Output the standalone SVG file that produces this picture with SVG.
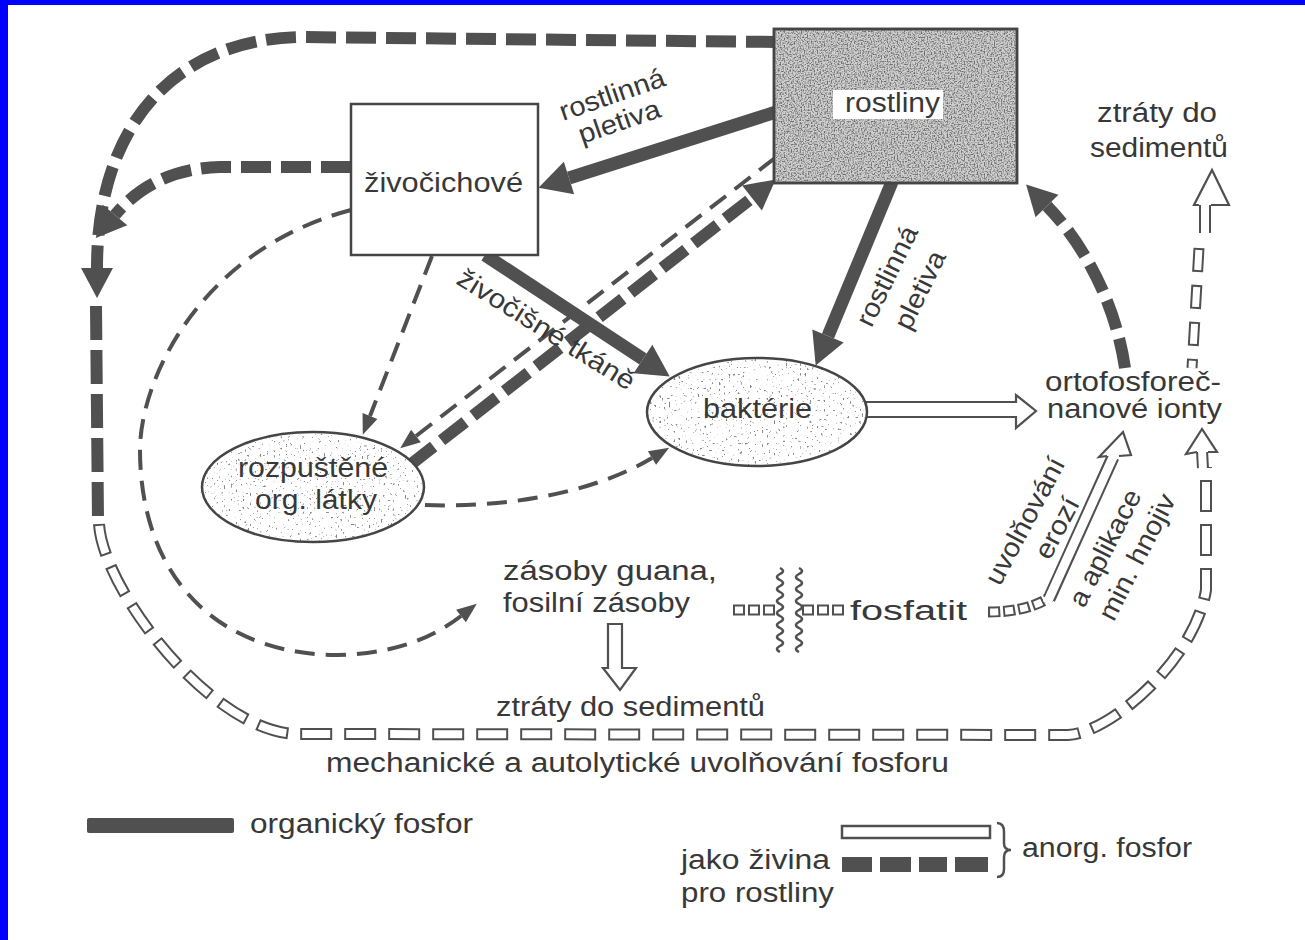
<svg xmlns="http://www.w3.org/2000/svg" width="1305" height="940" viewBox="0 0 1305 940">
<defs>
<style>
text{font-family:"Liberation Sans",Arial,Helvetica,sans-serif;font-size:27px;fill:#383838}
.ink{fill:none;stroke:#505050;stroke-linecap:butt}
.solid{stroke-width:13}
.tdash{stroke-width:12;stroke-dasharray:30 10}
.vdash{stroke-width:12;stroke-dasharray:34 10}
.thin{stroke-width:4;stroke-dasharray:20 11}
.ho{fill:none;stroke:#505050;stroke-width:12;stroke-dasharray:32 12}
.hi{fill:none;stroke:#fff;stroke-width:8;stroke-dasharray:28 16;stroke-dashoffset:-2}
.ho2{fill:none;stroke:#505050;stroke-width:11;stroke-dasharray:12 3}
.hi2{fill:none;stroke:#fff;stroke-width:7;stroke-dasharray:8 7;stroke-dashoffset:-2}
.ho3{fill:none;stroke:#505050;stroke-width:11;stroke-dasharray:24 13}
.hi3{fill:none;stroke:#fff;stroke-width:7;stroke-dasharray:20 17;stroke-dashoffset:-2}
.so{fill:none;stroke:#505050;stroke-width:12}
.si{fill:none;stroke:#fff;stroke-width:8}
.head{fill:#fff;stroke:#505050;stroke-width:2.2;stroke-linejoin:miter}
.node{stroke:#454545;stroke-width:2.5}
.wave{fill:none;stroke:#505050;stroke-width:2.5}
</style>
<marker id="hA" markerUnits="userSpaceOnUse" viewBox="0 -17 32 34" refX="0" refY="0" markerWidth="32" markerHeight="34" orient="auto" overflow="visible"><path d="M0,-17 L32,0 L0,17 Z" fill="#505050"/></marker>
<marker id="hD" markerUnits="userSpaceOnUse" viewBox="0 -16 30 32" refX="0" refY="0" markerWidth="30" markerHeight="32" orient="auto" overflow="visible"><path d="M0,-16 L30,0 L0,16 Z" fill="#505050"/></marker>
<marker id="hT" markerUnits="userSpaceOnUse" viewBox="0 -8 20 16" refX="0" refY="0" markerWidth="20" markerHeight="16" orient="auto" overflow="visible"><path d="M0,-8 L20,0 L0,8 Z" fill="#505050"/></marker>
<filter id="grain" x="0" y="0" width="100%" height="100%">
<feTurbulence type="fractalNoise" baseFrequency="0.7" numOctaves="1" seed="4"/>
<feColorMatrix type="matrix" values="0 0 0 0 0.15  0 0 0 0 0.15  0 0 0 0 0.15  3.6 0 0 0 -1.55"/>
<feComposite in2="SourceGraphic" operator="in"/>
</filter>
<filter id="dots" x="0" y="0" width="100%" height="100%">
<feTurbulence type="fractalNoise" baseFrequency="0.42" numOctaves="1" seed="9"/>
<feColorMatrix type="matrix" values="0 0 0 0 0.25  0 0 0 0 0.25  0 0 0 0 0.25  14 0 0 0 -9.1"/>
<feComposite in2="SourceGraphic" operator="in"/>
</filter>
</defs>

<rect x="0" y="0" width="1305" height="940" fill="#0000ff"/>
<rect x="8" y="5" width="1297" height="935" fill="#ffffff"/>

<g id="connectors">
  <path class="ink solid" d="M776 112 L569 178" marker-end="url(#hA)"/>
  <path class="ink solid" d="M485 255 L643 359" marker-end="url(#hA)"/>
  <path class="ink solid" d="M892 182 L828 336" marker-end="url(#hA)"/>

  <path class="ink tdash" d="M776 42 L300 37 C170 40 97 130 97 268" marker-end="url(#hD)"/>
  <path class="ink tdash" d="M351 167 L220 167 C175 168 140 185 115 215" marker-end="url(#hD)"/>
  <path class="ink vdash" d="M96 306 L98 520"/>
  <path class="ink tdash" d="M410 465 L752 198" marker-end="url(#hD)"/>
  <path class="ink tdash" d="M1125 368 C1115 300 1082 242 1047 206" marker-end="url(#hD)"/>

  <path class="ink thin" d="M775 158 L416 436" marker-end="url(#hT)"/>
  <path class="ink thin" d="M432 256 L370 416" marker-end="url(#hT)"/>
  <path class="ink thin" d="M351 210 C200 250 140 380 140 450 C140 560 200 650 330 655 C390 655 430 640 461 616" marker-end="url(#hT)"/>
  <path class="ink thin" d="M425 505 C500 508 590 495 652 458" marker-end="url(#hT)"/>

  <path class="ho" d="M99 524 C103 590 210 730 295 734 L1068 735 C1110 733 1195 660 1206 590 L1206 467"/>
  <path class="hi" d="M99 524 C103 590 210 730 295 734 L1068 735 C1110 733 1195 660 1206 590 L1206 467"/>
  <path class="so" d="M1203 468 L1202 451"/>
  <path class="si" d="M1203 470 L1202 450"/>
  <path class="head" d="M1197 452 L1186 454 L1202 429 L1217 452 L1208 452"/>

  <path class="ho3" d="M1199 248 L1192 368"/>
  <path class="hi3" d="M1199 248 L1192 368"/>
  <path class="so" d="M1205 233 L1205 204"/>
  <path class="si" d="M1205 235 L1205 203"/>
  <path class="head" d="M1199 205 L1194 205 L1212 170 L1229 205 L1211 205"/>

  <path class="head" d="M866 402 L1016 402 L1016 395 L1036 411 L1016 428 L1016 417 L866 417 Z"/>

  <path class="head" d="M608 624 L622 624 L622 668 L636 668 L620 690 L603 668 L608 668 Z"/>

  <path class="ho2" d="M733 610 L777 610"/>
  <path class="hi2" d="M733 610 L777 610"/>
  <path class="ho2" d="M802 610 L847 610"/>
  <path class="hi2" d="M802 610 L847 610"/>
  <path class="wave" d="M780 568 q6 3 0 6 q-6 3 0 6 q6 3 0 6 q-6 3 0 6 q6 3 0 6 q-6 3 0 6 q6 3 0 6 q-6 3 0 6 q6 3 0 6 q-6 3 0 6 q6 3 0 6 q-6 3 0 6 q6 3 0 6 q-6 3 0 6"/>
  <path class="wave" d="M799 568 q6 3 0 6 q-6 3 0 6 q6 3 0 6 q-6 3 0 6 q6 3 0 6 q-6 3 0 6 q6 3 0 6 q-6 3 0 6 q6 3 0 6 q-6 3 0 6 q6 3 0 6 q-6 3 0 6 q6 3 0 6 q-6 3 0 6"/>

  <path class="ho2" d="M988 612 Q1028 612 1050 597"/>
  <path class="hi2" d="M988 612 Q1028 612 1050 597"/>
  <path class="so" d="M1049 599 L1113 457" style="stroke-width:13"/>
  <path class="si" d="M1047 603 L1114 455" style="stroke-width:9"/>
  <path class="head" d="M1107 456 L1099 457 L1123 432 L1131 455 L1119 456"/>
</g>

<g id="rostliny">
  <rect x="774" y="29" width="243" height="154" fill="#d0d0d0" class="node"/>
  <rect x="775" y="30" width="241" height="152" fill="#fff" filter="url(#grain)"/>
  <rect x="774" y="29" width="243" height="154" fill="none" class="node"/>
  <rect x="833" y="90" width="110" height="29" fill="#fff"/>
  <text x="845" y="112" textLength="95" lengthAdjust="spacingAndGlyphs">rostliny</text>
</g>

<g id="zivocichove">
  <rect x="351" y="104" width="187" height="151" fill="#fff" class="node"/>
  <text x="364" y="192" textLength="159" lengthAdjust="spacingAndGlyphs">živočichové</text>
</g>

<g id="bakterie">
  <ellipse cx="757" cy="412" rx="110" ry="54" fill="#fff"/>
  <ellipse cx="757" cy="412" rx="110" ry="54" fill="#fff" filter="url(#dots)"/>
  <ellipse cx="757" cy="412" rx="110" ry="54" fill="none" class="node"/>
  <text x="703" y="418" textLength="109" lengthAdjust="spacingAndGlyphs">baktérie</text>
</g>

<g id="rozpustene">
  <ellipse cx="313" cy="487" rx="111" ry="55" fill="#fff"/>
  <ellipse cx="313" cy="487" rx="111" ry="55" fill="#fff" filter="url(#dots)"/>
  <ellipse cx="313" cy="487" rx="111" ry="55" fill="none" class="node"/>
  <text x="238" y="477" textLength="150" lengthAdjust="spacingAndGlyphs">rozpuštěné</text>
  <text x="255" y="509" textLength="122" lengthAdjust="spacingAndGlyphs">org. látky</text>
</g>

<g id="ortofosforecnanove">
  <text x="1045" y="391" textLength="176" lengthAdjust="spacingAndGlyphs">ortofosforeč-</text>
  <text x="1047" y="418" textLength="175" lengthAdjust="spacingAndGlyphs">nanové ionty</text>
</g>

<g id="ztraty-top">
  <text x="1097" y="122" textLength="120" lengthAdjust="spacingAndGlyphs">ztráty  do</text>
  <text x="1090" y="157" textLength="138" lengthAdjust="spacingAndGlyphs">sedimentů</text>
</g>

<g id="zasoby">
  <text x="503" y="580" textLength="214" lengthAdjust="spacingAndGlyphs">zásoby  guana,</text>
  <text x="503" y="612" textLength="187" lengthAdjust="spacingAndGlyphs">fosilní zásoby</text>
</g>

<g id="fosfatit">
  <text x="850" y="620" textLength="117" lengthAdjust="spacingAndGlyphs">fosfatit</text>
</g>

<g id="ztraty-bottom">
  <text x="496" y="716" textLength="269" lengthAdjust="spacingAndGlyphs">ztráty do sedimentů</text>
</g>

<g id="labels">
  <text x="326" y="772" textLength="623" lengthAdjust="spacingAndGlyphs">mechanické  a  autolytické  uvolňování  fosforu</text>
  <text transform="translate(563,121) rotate(-19)" textLength="110" lengthAdjust="spacingAndGlyphs">rostlinná</text>
  <text transform="translate(582,144) rotate(-19)" textLength="85" lengthAdjust="spacingAndGlyphs">pletiva</text>
  <text transform="translate(455,283) rotate(32)" textLength="204" lengthAdjust="spacingAndGlyphs">živočišné tkáně</text>
  <text transform="translate(887,276) rotate(-64)" x="0" y="9" text-anchor="middle" textLength="108" lengthAdjust="spacingAndGlyphs">rostlinná</text>
  <text transform="translate(920,290) rotate(-64)" x="0" y="9" text-anchor="middle" textLength="84" lengthAdjust="spacingAndGlyphs">pletiva</text>
  <text transform="translate(1025,521) rotate(-62)" x="0" y="9" text-anchor="middle" textLength="140" lengthAdjust="spacingAndGlyphs">uvolňování</text>
  <text transform="translate(1057,528) rotate(-62)" x="0" y="9" text-anchor="middle" textLength="66" lengthAdjust="spacingAndGlyphs">erozí</text>
  <text transform="translate(1105,548) rotate(-63)" x="0" y="9" text-anchor="middle" textLength="128" lengthAdjust="spacingAndGlyphs">a aplikace</text>
  <text transform="translate(1137,557) rotate(-63)" x="0" y="9" text-anchor="middle" textLength="138" lengthAdjust="spacingAndGlyphs">min. hnojiv</text>
</g>

<g id="legend">
  <rect x="87" y="818" width="147" height="15" rx="2" fill="#505050"/>
  <text x="250" y="833" textLength="223" lengthAdjust="spacingAndGlyphs">organický  fosfor</text>
  <rect x="842" y="826" width="148" height="12" fill="#fff" stroke="#505050" stroke-width="2.5"/>
  <rect x="842" y="857" width="30" height="15" fill="#505050"/>
  <rect x="880" y="857" width="31" height="15" fill="#505050"/>
  <rect x="919" y="857" width="28" height="15" fill="#505050"/>
  <rect x="955" y="857" width="33" height="15" fill="#505050"/>
  <path d="M997 823 Q1004 823 1004 832 L1004 843 Q1004 850 1011 850 Q1004 850 1004 857 L1004 869 Q1004 877 997 877" fill="none" stroke="#505050" stroke-width="2.5"/>
  <text x="1022" y="857" textLength="170" lengthAdjust="spacingAndGlyphs">anorg. fosfor</text>
  <text x="681" y="869" textLength="149" lengthAdjust="spacingAndGlyphs">jako  živina</text>
  <text x="681" y="902" textLength="153" lengthAdjust="spacingAndGlyphs">pro  rostliny</text>
</g>
</svg>
